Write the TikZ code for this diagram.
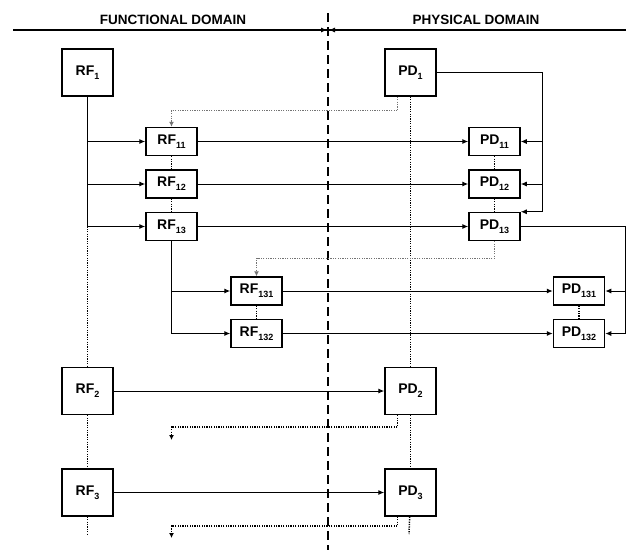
\documentclass[tikz,border=0pt]{standalone}
\usepackage{fontspec}
\setmainfont{Liberation Sans}
\usepackage{tikz}
\usetikzlibrary{positioning,arrows.meta}
\newcommand{\domsub}[1]{\raisebox{-0.55ex}{\fontsize{9}{10}\selectfont #1}}
\tikzset{
    domainbig/.style={draw, line width=1.5pt, minimum width=51pt, minimum height=47pt, inner sep=0pt, fill=white, font=\bfseries\fontsize{14}{16}\selectfont},
    domainsmall/.style={domainbig, minimum height=28pt},
    domaintitle/.style={font=\bfseries\fontsize{13.5}{15}\selectfont},
    domainarrow/.style={draw, -{Latex[length=6pt,width=5pt]}, line width=1pt},
    domainline/.style={draw, line width=1pt},
    domaindotted/.style={draw, line width=1.5pt, dash pattern=on 1.2pt off 1.2pt},
    domainfeed/.style={draw, line width=1.2pt, dash pattern=on 1.2pt off 1.2pt, -{Latex[length=5pt,width=5pt]}},
    domaindivide/.style={draw, line width=2.4pt, dash pattern=on 9pt off 5pt}
}

\begin{document}
\begin{tikzpicture}[x=1pt, y=1pt, node distance=13pt]
    \useasboundingbox (0,0) rectangle (626,-550);
    % header
    \coordinate (headleft) at (13,-30);
    \coordinate (headright) at (626,-30);
    \coordinate (headmidl) at (327,-30);
    \coordinate (headmidr) at (329,-30);
    \coordinate (divtop) at (328,-13);
    \coordinate (divbot) at (328,-550);
    \node[domaintitle] (functitle) at (173,-20) {FUNCTIONAL DOMAIN};
    \node[domaintitle] (phystitle) at (476,-20) {PHYSICAL DOMAIN};

    % functional requirements
    \node[domainbig] (rf1) at (87.5,-72.5) {RF\domsub{1}};
    \node[domainsmall, below=30pt of rf1, xshift=84pt] (rf11) {RF\domsub{11}};
    \node[domainsmall, below=of rf11] (rf12) {RF\domsub{12}};
    \node[domainsmall, below=of rf12] (rf13) {RF\domsub{13}};
    \node[domainsmall, below=35pt of rf13, xshift=85pt] (rf131) {RF\domsub{131}};
    \node[domainsmall, below=of rf131] (rf132) {RF\domsub{132}};
    \node[domainbig, below=270pt of rf1] (rf2) {RF\domsub{2}};
    \node[domainbig, below=53pt of rf2] (rf3) {RF\domsub{3}};

    % physical design
    \node[domainbig, right=270.5pt of rf1] (pd1) {PD\domsub{1}};
    \node[domainsmall, right=270.5pt of rf11] (pd11) {PD\domsub{11}};
    \node[domainsmall, right=270.5pt of rf12] (pd12) {PD\domsub{12}};
    \node[domainsmall, right=270.5pt of rf13] (pd13) {PD\domsub{13}};
    \node[domainsmall, right=270pt of rf131] (pd131) {PD\domsub{131}};
    \node[domainsmall, right=270pt of rf132] (pd132) {PD\domsub{132}};
    \node[domainbig, right=270.5pt of rf2] (pd2) {PD\domsub{2}};
    \node[domainbig, right=270.5pt of rf3] (pd3) {PD\domsub{3}};

    % helper points
    \coordinate[right=106pt of pd1.east] (pdbus1);
    \coordinate[right=105pt of pd13.east] (pdbus2);
    \coordinate[above=16pt of rf11] (fbturn1);
    \coordinate[above=18pt of rf131] (fbturn2);
    \coordinate (fbturn3) at (171.5,-427);
    \coordinate (fbend3) at (171.5,-440);
    \coordinate (fbturn4) at (171.5,-526);
    \coordinate (fbend4) at (171.5,-538);
    \coordinate (rfend) at (87.5,-534);
    \coordinate (pdend) at (409,-534);

    \draw[domainline, line width=1.2pt] (headleft) -- (headright);
    \draw[domainarrow] (headleft) -- (headmidl);
    \draw[domainarrow] (headright) -- (headmidr);
    \draw[domaindivide] (divtop) -- (divbot);

    \draw[domaindotted] (rf1) -- (rf2);
    \draw[domaindotted] (rf2) -- (rf3);
    \draw[domaindotted] (rf3) -- (rfend);
    \draw[domaindotted] (pd1) -- (pd2);
    \draw[domaindotted] (pd2) -- (pd3);
    \draw[domaindotted] (pd3) -- (pdend);
    \draw[domaindotted] (rf11) -- (rf12);
    \draw[domaindotted] (rf12) -- (rf13);
    \draw[domaindotted] (pd11) -- (pd12);
    \draw[domaindotted] (pd12) -- (pd13);
    \draw[domaindotted] (rf131) -- (rf132);
    \draw[domaindotted] (pd131) -- (pd132);

    \draw[domainarrow] (rf1) |- (rf11);
    \draw[domainarrow] (rf1) |- (rf12);
    \draw[domainarrow] (rf1) |- (rf13);
    \draw[domainarrow] (rf13) |- (rf131);
    \draw[domainarrow] (rf13) |- (rf132);

    \draw[domainarrow] (rf11) -- (pd11);
    \draw[domainarrow] (rf12) -- (pd12);
    \draw[domainarrow] (rf13) -- (pd13);
    \draw[domainarrow] (rf131) -- (pd131);
    \draw[domainarrow] (rf132) -- (pd132);
    \draw[domainarrow] (rf2) -- (pd2);
    \draw[domainarrow] (rf3) -- (pd3);

    \draw[domainline] (pd1.east) -- (pdbus1);
    \draw[domainarrow] (pdbus1) |- (pd11.east);
    \draw[domainarrow] (pdbus1) |- (pd12.east);
    \draw[domainarrow] (pdbus1) |- (pd13.north east);
    \draw[domainline] (pd13.east) -- (pdbus2);
    \draw[domainarrow] (pdbus2) |- (pd131.east);
    \draw[domainarrow] (pdbus2) |- (pd132.east);

    \draw[domainfeed, black!55] ([xshift=-13pt]pd1.south) |- (fbturn1) -- (rf11);
    \draw[domainfeed, black!55] (pd13.south) |- (fbturn2) -- (rf131);
    \draw[domainfeed] ([xshift=-13pt]pd2.south) |- (fbturn3) -- (fbend3);
    \draw[domainfeed] ([xshift=-13pt]pd3.south) |- (fbturn4) -- (fbend4);
\end{tikzpicture}
\end{document}
